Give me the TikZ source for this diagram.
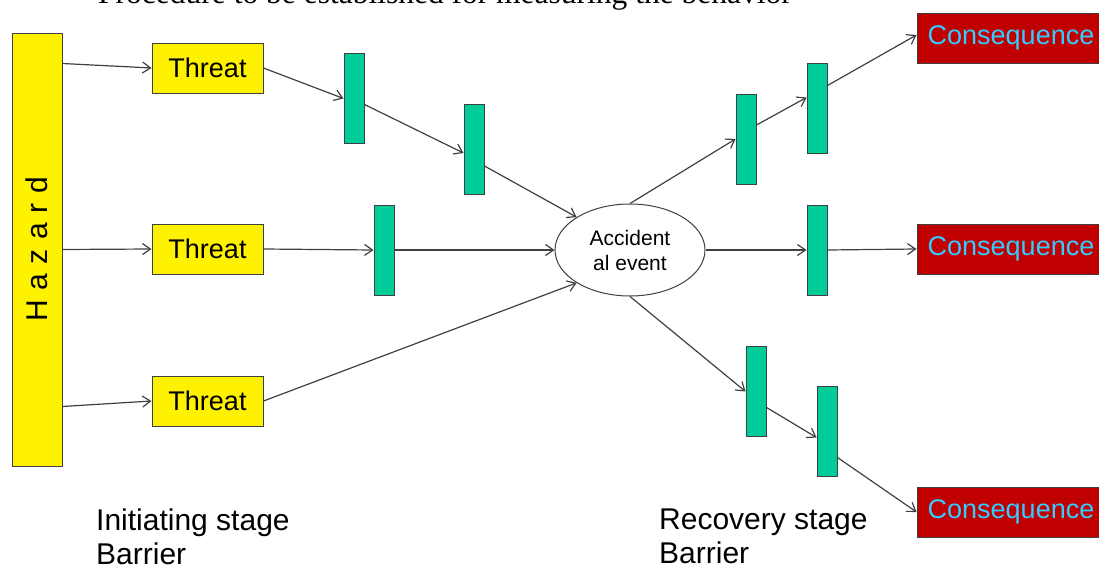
\documentclass[tikz,border=0pt]{standalone}
\usepackage{fontspec}
\setmainfont{Liberation Sans}
\newfontfamily\titlefont{Liberation Serif}
\usetikzlibrary{shapes.geometric,arrows.meta}

\begin{document}
\begin{tikzpicture}[x=1pt, y=-1pt,
  box/.style = {draw=black!75, line width=1pt, inner sep=0pt},
  threat/.style = {box, fill=yellow, minimum width=111pt, minimum height=50pt, font=\fontsize{27}{30}\selectfont},
  barrier/.style = {box, fill={rgb,255:red,0;green,204;blue,153}, minimum width=20pt, minimum height=90pt},
  conseq/.style = {box, fill={rgb,255:red,192;green,0;blue,0}, text={rgb,255:red,51;green,204;blue,255}, minimum width=188pt, minimum height=50pt, font=\fontsize{27}{30}\selectfont},
  stage/.style = {anchor=north west, align=left, inner sep=0pt, font=\fontsize{30}{34}\selectfont},
  link/.style = {draw=black!75, line width=1.2pt, -{Straight Barb[length=8pt,width=11pt]}}]
\useasboundingbox (0,0) rectangle (1099,570);
\node[anchor=base west, inner sep=0pt, font=\titlefont\fontsize{31.5}{36}\selectfont] (title) at (98,3) {Procedure to be established for measuring the behavior};
% hazard
\node[box, fill=yellow, minimum width=50pt, minimum height=433pt] (haz) at (37,249.5) {};
\node[rotate=90, font=\fontsize{30}{34}\selectfont\addfontfeature{LetterSpace=32}] (hazlbl) at (haz.center) {Hazard};
% threats
\node[threat] (t1) at (207.5,68) {Threat};
\node[threat] (t2) at (207.5,249) {Threat};
\node[threat] (t3) at (207.5,401) {Threat};
% barriers
\node[barrier] (b1) at (354,98.5) {};
\node[barrier] (b2) at (474,149) {};
\node[barrier] (b3) at (384,250) {};
\node[barrier] (b4) at (746,139) {};
\node[barrier] (b5) at (817,108.5) {};
\node[barrier] (b6) at (817,250) {};
\node[barrier] (b7) at (756,391.5) {};
\node[barrier] (b8) at (827,431.5) {};
% accidental event
\node[ellipse, draw=black!75, line width=1pt, fill=white, minimum width=150pt, minimum height=92pt, inner sep=0pt, align=center, font=\fontsize{21}{25}\selectfont] (ev) at (630,250) {Accident\\al event};
% consequences
\node[conseq] (c1) at (1011,38) {Consequence};
\node[conseq] (c2) at (1011,249) {Consequence};
\node[conseq] (c3) at (1011,512) {Consequence};
% labels
\node[stage] (lblinit) at (96,509) {Initiating stage\\Barrier};
\node[stage] (lblrec) at (659,509) {Recovery stage\\Barrier};
% initiating side
\draw[link] ([yshift=-31pt]haz.north east) -- (t1.west);
\draw[link] (haz.east) -- (t2.west);
\draw[link] ([yshift=60pt]haz.south east) -- (t3.west);
\draw[link] (t1.east) -- (b1.west);
\draw[link] ([yshift=-6pt]b1.east) -- ([yshift=-4pt]b2.west);
\draw[link] ([yshift=-17pt]b2.east) -- (ev.north west);
\draw[link] (t2.east) -- (b3.west);
\draw[link] (b3.east) -- (ev.west);
\draw[link] (t3.east) -- (ev.south west);
% recovery side
\draw[link] (ev.north) -- (b4.west);
\draw[link] ([yshift=14pt]b4.east) -- ([yshift=11pt]b5.west);
\draw[link] ([yshift=23pt]b5.east) -- ([yshift=3pt]c1.west);
\draw[link] (ev.east) -- (b6.west);
\draw[link] (b6.east) -- (c2.west);
\draw[link] (ev.south) -- (b7.west);
\draw[link] ([yshift=-16pt]b7.east) -- ([yshift=-6pt]b8.west);
\draw[link] ([yshift=-26pt]b8.east) -- (c3.west);
\end{tikzpicture}
\end{document}
